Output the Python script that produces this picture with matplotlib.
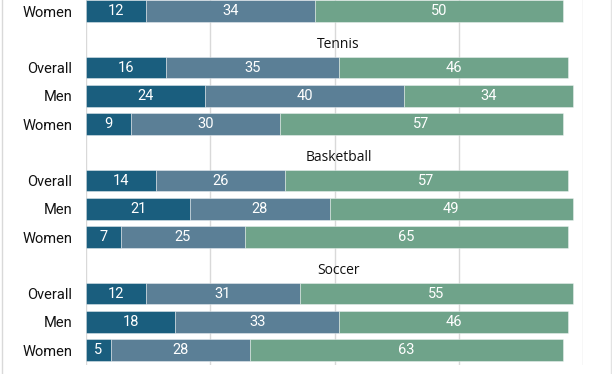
import matplotlib
matplotlib.use("Agg")
import matplotlib.pyplot as plt
from matplotlib.lines import Line2D

# Data (percent)
row_labels = ["Women",
              "Overall", "Men", "Women",
              "Overall", "Men", "Women",
              "Overall", "Men", "Women"]
row_slots = [0, 2, 3, 4, 6, 7, 8, 10, 11, 12]
group_names = ["Tennis", "Basketball", "Soccer"]
group_slots = [1, 5, 9]
seg1 = [12, 16, 24, 9, 14, 21, 7, 12, 18, 5]
seg2 = [34, 35, 40, 30, 26, 28, 25, 31, 33, 28]
seg3 = [50, 46, 34, 57, 57, 49, 65, 55, 46, 63]
xticks = [0, 25, 50, 75, 100]

colors = ["#1a5e7e", "#5b7f96", "#6fa38a"]

W, H = 612, 374
fig = plt.figure(figsize=(W / 100, H / 100), dpi=100)
ax = fig.add_axes([86 / W, (H - 365) / H, (583 - 86) / W, 365 / H])

lab_font = "Roboto"
bar_h = 0.765
lefts = [0] * len(seg1)
for seg, c in zip([seg1, seg2, seg3], colors):
    ax.barh(row_slots, seg, left=lefts, height=bar_h, color=c,
            edgecolor=(1, 1, 1, 0.45), linewidth=0.6, zorder=3)
    for y, l, v in zip(row_slots, lefts, seg):
        ax.text(l + v / 2, y, str(v), ha="center", va="center",
                color="white", fontsize=10.5, family=lab_font, zorder=4)
    lefts = [a + b for a, b in zip(lefts, seg)]

for g, s in zip(group_names, group_slots):
    ax.text(50.8, s + 0.2, g, ha="center", va="center", fontsize=10,
            family="Open Sans", color="#111111")

ax.set_xlim(0, 100)
ax.set_ylim(12.53, -0.39)
ax.set_xticks(xticks)
ax.set_yticks(row_slots)
ax.set_yticklabels(row_labels, family=lab_font, fontsize=10.5, color="#111111")
ax.tick_params(axis="y", length=0, pad=10)
ax.tick_params(axis="x", length=0, labelbottom=False)
ax.grid(axis="x", color="#d9d9d9", linewidth=1, zorder=0)
for sp in ax.spines.values():
    sp.set_visible(False)

# outer frame lines from the screenshot
fig.add_artist(Line2D([1.5 / W, 1.5 / W], [0, 1], color="#d9d9d9", lw=1))
fig.add_artist(Line2D([610.5 / W, 610.5 / W], [0, 1], color="#e3e3e3", lw=1))

fig.savefig("out.png", dpi=100)
